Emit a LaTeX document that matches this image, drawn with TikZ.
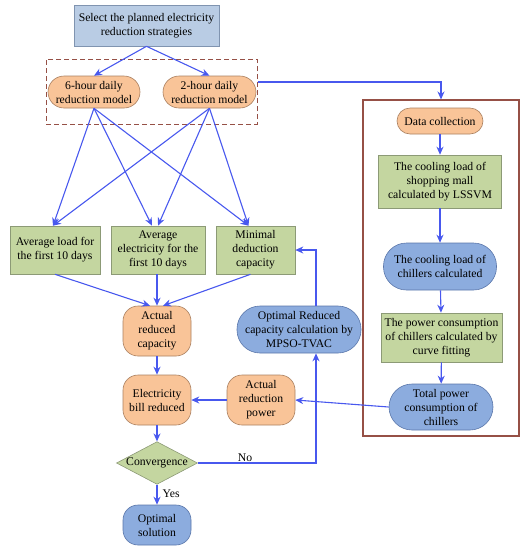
\documentclass[tikz,border=0pt]{standalone}
\usepackage{fontspec}
\setmainfont{Liberation Serif}
\usetikzlibrary{arrows.meta,shapes.geometric}
\definecolor{arrowblue}{RGB}{72,88,238}
\definecolor{topfill}{RGB}{185,204,228}
\definecolor{topdraw}{RGB}{128,148,176}
\definecolor{orfill}{RGB}{249,196,152}
\definecolor{ordraw}{RGB}{170,128,96}
\definecolor{grfill}{RGB}{196,214,160}
\definecolor{grdraw}{RGB}{140,154,118}
\definecolor{blfill}{RGB}{140,172,222}
\definecolor{bldraw}{RGB}{90,118,170}
\definecolor{boxred}{RGB}{150,80,70}
\tikzset{
  base/.style={align=center, inner sep=0pt, font=\fontsize{11.7}{14}\selectfont, line width=0.6pt},
  topbox/.style={base, draw=topdraw, fill=topfill},
  greenbox/.style={base, draw=grdraw, fill=grfill},
  orstad/.style={base, draw=ordraw, fill=orfill},
  blstad/.style={base, draw=bldraw, fill=blfill},
  diam/.style={base, diamond, aspect=1.9, draw=grdraw, fill=grfill},
  arr/.style={draw=arrowblue, line width=1.1pt, -{Stealth[length=8pt,width=7pt]}},
  lbl/.style={font=\fontsize{11.7}{14}\selectfont, inner sep=1pt}
}
\begin{document}
\begin{tikzpicture}[x=1pt,y=-1pt]
\useasboundingbox (0,0) rectangle (527,550);

% containers
\node[draw=boxred, dash pattern=on 5pt off 3pt, line width=1pt, minimum width=211pt, minimum height=65pt, inner sep=0pt] (dbox) at (151.5,91.5) {};
\node[draw=boxred, line width=1.1pt, minimum width=156pt, minimum height=336pt, inner sep=0pt] (rbox) at (441,268) {};

% nodes
\node[topbox, minimum width=145pt, minimum height=41pt] (top) at (146.5,25.5) {Select the planned electricity\\reduction strategies};
\node[orstad, rounded corners=16pt, minimum width=92pt, minimum height=32pt] (six) at (94,92) {6-hour daily\\reduction model};
\node[orstad, rounded corners=16pt, minimum width=93pt, minimum height=32pt] (two) at (209.5,92) {2-hour daily\\reduction model};

\node[greenbox, minimum width=90pt, minimum height=48pt] (avgload) at (55,250) {Average load for\\the first 10 days};
\node[greenbox, minimum width=94pt, minimum height=48pt] (avgelec) at (158,250) {Average\\electricity for the\\first 10 days};
\node[greenbox, minimum width=79pt, minimum height=48pt] (minimal) at (255.5,250) {Minimal\\deduction\\capacity};

\node[orstad, rounded corners=15pt, minimum width=68pt, minimum height=50pt] (arc) at (157,331) {Actual\\reduced\\capacity};
\node[orstad, rounded corners=15pt, minimum width=68pt, minimum height=50pt] (bill) at (157,400) {Electricity\\bill reduced};
\node[orstad, rounded corners=15pt, minimum width=68pt, minimum height=50pt] (arp) at (261,400) {Actual\\reduction\\power};
\node[blstad, rounded corners=23pt, minimum width=124pt, minimum height=47pt] (orc) at (299,329.5) {Optimal Reduced\\capacity calculation by\\MPSO-TVAC};
\node[diam, minimum width=77pt, minimum height=40pt] (conv) at (157,463) {Convergence};
\node[blstad, rounded corners=15pt, minimum width=68pt, minimum height=40pt] (opt) at (157,525) {Optimal\\solution};

\node[orstad, rounded corners=13pt, minimum width=86pt, minimum height=26pt] (data) at (440,121) {Data collection};
\node[greenbox, minimum width=123pt, minimum height=53pt] (lssvm) at (440,181.5) {The cooling load of\\shopping mall\\calculated by LSSVM};
\node[blstad, rounded corners=23pt, minimum width=113pt, minimum height=47pt] (cool) at (440,266.5) {The cooling load of\\chillers calculated};
\node[greenbox, minimum width=121pt, minimum height=49pt] (pow) at (441.5,337.5) {The power consumption\\of chillers calculated by\\curve fitting};
\node[blstad, rounded corners=23pt, minimum width=104pt, minimum height=46pt] (total) at (441,407) {Total power\\consumption of\\chillers};

% connectors
\draw[arr] (top.south) -- (six.north);
\draw[arr] (top.south) -- (two.north);
\draw[arr] ([yshift=9.5pt]dbox.east) -| (rbox.north);

\draw[arr] (six.south) -- ([xshift=-2pt]avgload.north);
\draw[arr] (six.south) -- ([xshift=-6pt]avgelec.north);
\draw[arr] (six.south) -- ([xshift=-7pt]minimal.north);
\draw[arr] (two.south) -- ([xshift=-2pt]avgload.north);
\draw[arr] (two.south) -- ([xshift=0pt]avgelec.north);
\draw[arr] (two.south) -- ([xshift=-7pt]minimal.north);

\draw[arr] (avgload.south) -- ([xshift=-7pt]arc.north);
\draw[arr] ([xshift=-1pt]avgelec.south) -- (arc.north);
\draw[arr] ([xshift=-5pt]minimal.south) -- ([xshift=6pt]arc.north);

\draw[arr] (arc) -- (bill);
\draw[arr] (bill) -- (conv);
\draw[arr] (conv) -- node[lbl, right=4pt, pos=0.45] {Yes} (opt);
\draw[arr] (total.west) -- (arp.east);
\draw[arr] (arp.west) -- (bill.east);
\draw[arr] (conv.east) -| node[lbl, above, pos=0.2] {No} ([xshift=17pt]orc.south);
\draw[arr] ([xshift=17pt]orc.north) |- (minimal.east);

\draw[arr] (data) -- (lssvm);
\draw[arr] (lssvm) -- (cool);
\draw[arr] (cool) -- (pow);
\draw[arr] (pow) -- (total);
\end{tikzpicture}
\end{document}
